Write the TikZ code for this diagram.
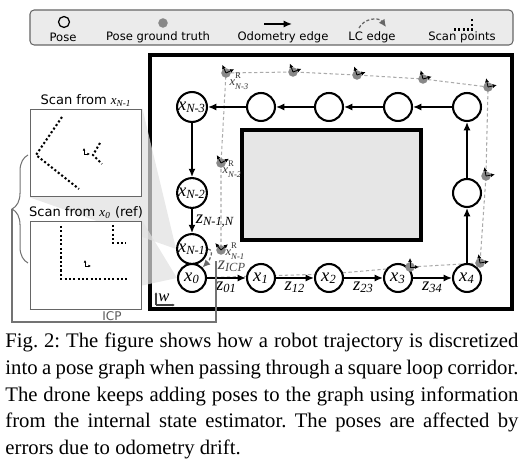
\documentclass[tikz,border=0pt]{standalone}
\usepackage{fontspec}
\setmainfont{Liberation Serif}
\setsansfont{DejaVu Sans}
\usetikzlibrary{arrows.meta,positioning,calc,decorations.pathreplacing}
\definecolor{gtGray}{HTML}{888888}
\definecolor{gtLine}{HTML}{AAAAAA}
\definecolor{roomFill}{HTML}{E6E6E6}
\definecolor{legFill}{HTML}{EBEBEB}
\definecolor{edgeGray}{HTML}{666666}
\newcommand{\pvar}[2]{{\rmfamily\textit{#1}\textsubscript{\textit{#2}}}}
\newcommand{\gtvar}[1]{{\rmfamily\fontsize{6}{6}\selectfont\textit{x}\rlap{\raisebox{0.55em}{\fontsize{4.2}{4.2}\selectfont R}}\raisebox{-0.3em}{\fontsize{4.2}{4.2}\selectfont\itshape #1}}}
\pgfdeclarelayer{bg}
\pgfdeclarelayer{mid}
\pgfsetlayers{bg,mid,main}
\tikzset{
    poseNode/.style={
        circle,
        draw,
        line width=1pt,
        fill=white,
        minimum size=13.5pt,
        inner sep=0pt,
        font=\fontsize{9}{9}\selectfont
    },
    % Edges
    odoEdge/.style={-{Latex[length=4pt,width=3.4pt]}, line width=0.7pt},
    lcEdge/.style={-{Latex[length=3.6pt,width=3.4pt]}, dashed, dash pattern=on 1.5pt off 1pt, edgeGray, line width=0.6pt},
    gtPath/.style={gtLine, dash pattern=on 1.6pt off 1.2pt, line width=0.5pt},
    gtDot/.style={circle, fill=gtGray, minimum size=4.6pt, inner sep=0pt},
    gtAxis/.style={-{Latex[length=2pt,width=2pt]}, line width=0.4pt},
    gtLbl/.style={text=black!80, inner sep=0pt},
    zLbl/.style={font=\fontsize{9}{9}\selectfont, inner sep=1.5pt},
    % Scans
    scanBox/.style={draw=black!60, fill=white, line width=0.5pt, minimum width=54pt, minimum height=42.3pt, inner sep=0pt},
    scanPts/.style={line width=1pt, dash pattern=on 1pt off 1.1pt},
    scanTitle/.style={font=\sffamily\fontsize{6.3}{6.3}\selectfont, inner sep=1pt},
    iconAx/.style={-{Latex[length=1.3pt,width=1.3pt]}, line width=0.3pt},
    coneFill/.style={fill=black!12, fill opacity=0.7},
    braceLine/.style={draw=black!55, line width=0.5pt},
    % Legend
    legBox/.style={draw=black!60, fill=legFill, rounded corners=2pt, line width=0.5pt, minimum width=233.2pt, minimum height=16.9pt},
    legTxt/.style={font=\sffamily\fontsize{5.6}{5.6}\selectfont, inner sep=0pt},
    wallLine/.style={line width=2.4pt, line join=miter},
    capTxt/.style={font=\fontsize{10}{12.8}\selectfont\frenchspacing, text width=247.7pt, align=justify, inner sep=0pt}
}
\begin{document}
\begin{tikzpicture}[x=0.4828pt, y=-0.4828pt]
\useasboundingbox (0,0) rectangle (522,465);

% Legend
\node[legBox] (leg) at (271.5,27.5) {};
\node[circle, draw, line width=0.6pt, minimum size=5.3pt, inner sep=0pt] (lPose) at (64,22) {};
\node[legTxt] at (63,37.5) {Pose};
\node[gtDot] (lGt) at (163,23) {};
\node[legTxt] at (158,37.5) {Pose ground truth};
\coordinate (lOa) at (264,24);
\coordinate (lOb) at (292,24);
\draw[odoEdge] (lOa) -- (lOb);
\node[legTxt] at (283,37.5) {Odometry edge};
\draw[lcEdge] (359,28) .. controls (364,18) and (379,17) .. (386,27);
\node[legTxt] at (372,37.5) {LC edge};
\draw[scanPts] (454,29.5) -- (472,29.5) -- (472,18);
\node[legTxt] at (462,37.5) {Scan points};

% Corridor
\begin{pgfonlayer}{bg}
\draw[wallLine] (150,55) rectangle (512,309);
\draw[wallLine, line width=2pt, fill=roomFill] (242,130) rectangle (421,240);
\end{pgfonlayer}

% Poses
\foreach \n/\x/\y/\t in {x0/192/278/{\pvar{x}{0}}, x1/261/278/{\pvar{x}{1}}, x2/329/278/{\pvar{x}{2}},
    x3/398/278/{\pvar{x}{3}}, x4/467/278/{\pvar{x}{4}}, r1/467/193/{}, r2/467/107/{},
    t1/398/107/{}, t2/329/107/{}, t3/261/107/{}, xNm3/192/107/{\pvar{x}{N-3}},
    xNm2/192/193/{\pvar{x}{N-2}}, xNm1/192/249/{\pvar{x}{N-1}}}
    \node[poseNode] (\n) at (\x,\y) {\t};

% Odometry edges
\draw[odoEdge] (x0) -- node[zLbl, below] {\pvar{z}{01}} (x1);
\draw[odoEdge] (x1) -- node[zLbl, below] {\pvar{z}{12}} (x2);
\draw[odoEdge] (x2) -- node[zLbl, below] {\pvar{z}{23}} (x3);
\draw[odoEdge] (x3) -- node[zLbl, below] {\pvar{z}{34}} (x4);
\draw[odoEdge] (xNm2) -- node[zLbl, right] {\pvar{z}{N-1,N}} (xNm1);
\foreach \a/\b in {x4/r1, r1/r2, r2/t1, t1/t2, t2/t3, t3/xNm3, xNm3/xNm2}
    \draw[odoEdge] (\a) -- (\b);

% Ground truth
\coordinate (h1) at (261,276);
\coordinate (h2) at (329,274);
\foreach \n/\x/\y in {gA/410/267, gB/480/263, gC/486/176, gD/488/87, gE/423/79,
    gF/357/75, gG/293/72, gH/226/73, gI/221/163, gJ/221/250}
    \node[gtDot] (\n) at (\x,\y) {};
\begin{pgfonlayer}{bg}
\draw[gtPath] (x0.center) -- (h1) -- (h2) -- (gA.center) -- (gB.center) -- (gC.center) -- (gD.center)
    -- (gE.center) -- (gF.center) -- (gG.center) -- (gH.center) -- (gI.center) -- (gJ.center);
\end{pgfonlayer}
\foreach \n/\a in {gA/0, gB/10, gC/10, gD/12, gE/15, gF/18, gG/20, gH/25, gI/28, gJ/40} {
    \draw[gtAxis] (\n.center) -- ++({-\a}:9);
    \draw[gtAxis] (\n.center) -- ++({-\a-90}:9);
}
\node[gtLbl] at (239,81) {\gtvar{N-3}};
\node[gtLbl] at (232,169) {\gtvar{N-2}};
\node[gtLbl] at (235,251) {\gtvar{N-1}};

% Loop closure
\draw[lcEdge] (xNm1.east) .. controls +(7,1) and +(7,-7) .. (x0.north east);
\node[zLbl, text=black!70] (zIcp) at (232,266) {\pvar{z}{ICP}};

% World frame
\coordinate (wO) at (156,305);
\draw[iconAx, line width=0.5pt, black!75] (wO) -- ++(0,-13);
\draw[iconAx, line width=0.5pt, black!75] (wO) -- ++(19,0);
\node[font=\fontsize{8}{8}\selectfont, inner sep=0pt] at (164,298) {\textit{w}};

% Scans
\node[scanBox] (scanA) at (86,153) {};
\node[scanBox] (scanB) at (86,265.5) {};
\begin{pgfonlayer}{mid}
\fill[coneFill] (scanA.north east) -- (xNm1.west) -- (scanA.south west) -- cycle;
\fill[coneFill] (scanB.north east) -- (x0.west) -- (scanB.south west) -- cycle;
\end{pgfonlayer}
\node[scanTitle, above=0pt of scanA] {Scan from \pvar{x}{N-1}};
\node[scanTitle, above=0pt of scanB] {Scan from \pvar{x}{0} (ref)};
\draw[scanPts] (62,117) -- (36,155) -- (79,189);
\draw[scanPts] (100,143) -- (93,155) -- (102,164);
\draw[iconAx] (84,154) -- (84,148);
\draw[iconAx] (84,154) -- (90,154);
\draw[scanPts] (61,226) -- (61,279) -- (127,279);
\draw[scanPts] (113,225) -- (113,243) -- (126,243);
\draw[iconAx] (85,266) -- (85,260);
\draw[iconAx] (85,266) -- (91,266);

% ICP bracket
\draw[braceLine, decorate, decoration={brace, amplitude=7.7pt}] (28,263) -- (28,155);
\coordinate (brTip) at (12,209);
\coordinate (icpEnd) at (216,261);
\draw[braceLine] (brTip) -- (12,322) -| (icpEnd);
\node[legTxt, text=black!65, font=\sffamily\fontsize{5.8}{5.8}\selectfont] at (112,316) {ICP};

% Caption
\node[capTxt, anchor=north west] (cap) at (5,333) {Fig.~2: The figure shows how a robot trajectory is discretized\linebreak
into a pose graph when passing through a square loop corridor.\linebreak
The drone keeps adding poses to the graph using information\linebreak
from the internal state estimator. The poses are affected by\linebreak
errors due to odometry drift.};
\end{tikzpicture}
\end{document}
